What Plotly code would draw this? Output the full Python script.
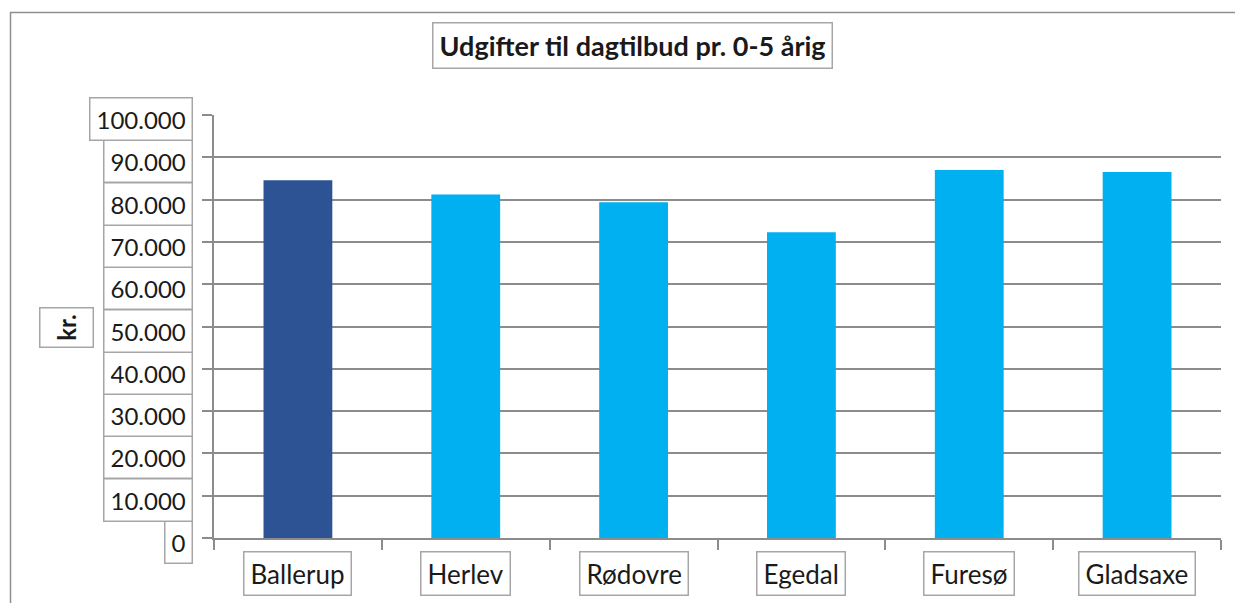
import plotly.graph_objects as go

categories = ["Ballerup", "Herlev", "Rødovre", "Egedal", "Furesø", "Gladsaxe"]
values = [84600, 81200, 79400, 72300, 87000, 86500]
tick_values = [0, 10000, 20000, 30000, 40000, 50000, 60000, 70000, 80000, 90000, 100000]
tick_labels = ["0", "10.000", "20.000", "30.000", "40.000", "50.000", "60.000",
               "70.000", "80.000", "90.000", "100.000"]
title_text = "Udgifter til dagtilbud pr. 0-5 årig"
y_title = "kr."

bar_colors = ["#2E5394", "#00B0F0", "#00B0F0", "#00B0F0", "#00B0F0", "#00B0F0"]

# the page body has an 8px default margin; lay out in screen pixels minus it
OFF = 8
W, H = 1243 - OFF, 603 - OFF
L, R, T, B = 214 - OFF, 22, 115 - OFF, 65
PW, PH = W - L - R, H - T - B

def px_x(p):
    return (p - OFF - L) / PW

def px_y(p):
    return (H - B - (p - OFF)) / PH

FONT = "Lato, Carlito, Calibri, sans-serif"
TXT = "#1a1a1a"
GRID = "#8c8c8c"
BOX = "#a6a6a6"

fig = go.Figure(go.Bar(
    x=categories, y=values,
    marker=dict(color=bar_colors, line=dict(width=0)),
    hoverinfo="x+y",
))

annotations = []
# y tick labels in boxes
for v, t in zip(tick_values, tick_labels):
    annotations.append(dict(
        x=px_x(193), xref="paper", xanchor="right",
        y=v, yref="y", yanchor="middle", yshift=-4,
        text=t, showarrow=False,
        font=dict(family=FONT, size=24, color=TXT),
        bordercolor=BOX, borderwidth=1.5, borderpad=6, bgcolor="white",
        height=29,
    ))
# x category labels in boxes
for c in categories:
    annotations.append(dict(
        x=c, xref="x", xanchor="center",
        y=px_y(573.5), yref="paper", yanchor="middle",
        text=c, showarrow=False,
        font=dict(family=FONT, size=26, color=TXT),
        bordercolor=BOX, borderwidth=1.5, borderpad=6, bgcolor="white",
        height=30,
    ))
# title
annotations.append(dict(
    x=px_x(632.5), xref="paper", xanchor="center",
    y=px_y(45), yref="paper", yanchor="middle",
    text="<b>" + title_text + "</b>", showarrow=False,
    font=dict(family=FONT, size=27, color=TXT),
    bordercolor=BOX, borderwidth=1.5, borderpad=6, bgcolor="white",
    height=32,
))
# y-axis title
annotations.append(dict(
    x=px_x(66.5), xref="paper", xanchor="center",
    y=px_y(327.5), yref="paper", yanchor="middle",
    text="<b>" + y_title + "</b>", showarrow=False, textangle=-90,
    font=dict(family=FONT, size=24, color=TXT),
    bordercolor=BOX, borderwidth=1.5, borderpad=4,
    width=30, height=44,
))

fig.update_layout(
    width=W, height=H,
    margin=dict(l=L, r=R, t=T, b=B, pad=0),
    paper_bgcolor="white", plot_bgcolor="white",
    bargap=0.59,
    showlegend=False,
    annotations=annotations,
    shapes=[dict(
        type="rect", xref="paper", yref="paper",
        x0=px_x(10.5), x1=px_x(1270), y0=px_y(640), y1=px_y(12.5),
        line=dict(color="#8f8f8f", width=1.5), layer="below",
    )],
    xaxis=dict(
        type="category", showticklabels=False, showgrid=False,
        tickson="boundaries", ticks="outside", ticklen=10, tickwidth=1.5,
        tickcolor=GRID, showline=True, linecolor=GRID, linewidth=1.5,
        zeroline=False,
    ),
    yaxis=dict(
        range=[0, 100000], tickvals=tick_values, showticklabels=False,
        ticks="outside", ticklen=10, tickwidth=1.5, tickcolor=GRID,
        showgrid=True, gridcolor=GRID, gridwidth=1.5,
        showline=True, linecolor=GRID, linewidth=1.5, zeroline=False,
    ),
)

fig.write_html("out.html")
